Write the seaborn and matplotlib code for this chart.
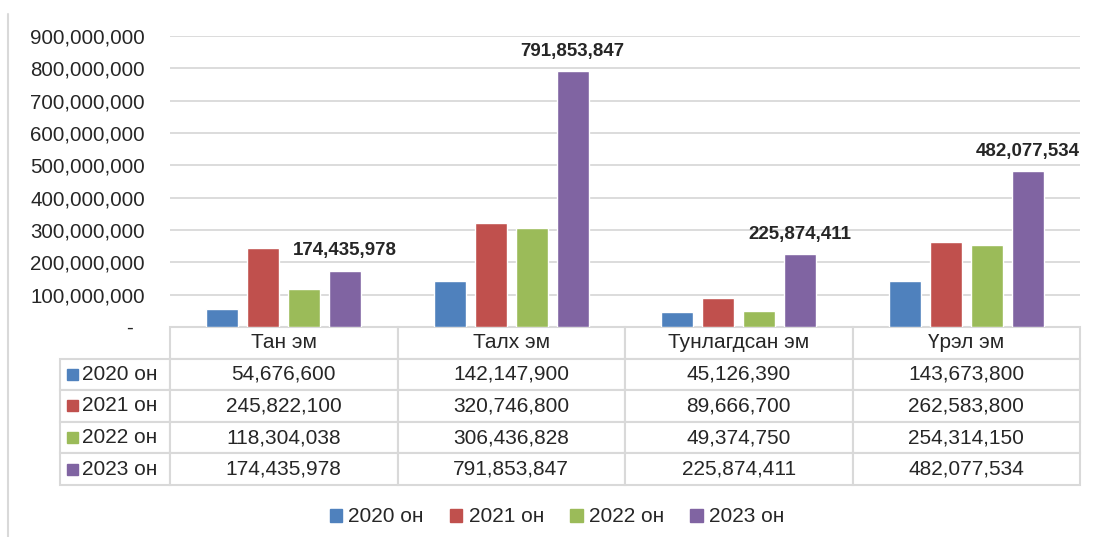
import matplotlib
matplotlib.use('Agg')
import matplotlib.pyplot as plt
import seaborn as sns
import pandas as pd
from matplotlib.table import Table
from matplotlib.patches import Patch, Rectangle
from matplotlib.lines import Line2D
from matplotlib.ticker import FuncFormatter

categories = ['Тан эм', 'Талх эм', 'Тунлагдсан эм', 'Үрэл эм']
years = ['2020 он', '2021 он', '2022 он', '2023 он']
v2020 = [54676600, 142147900, 45126390, 143673800]
v2021 = [245822100, 320746800, 89666700, 262583800]
v2022 = [118304038, 306436828, 49374750, 254314150]
v2023 = [174435978, 791853847, 225874411, 482077534]
colors = ['#4F81BD', '#C0504D', '#9BBB59', '#8064A2']

series = [v2020, v2021, v2022, v2023]
df = pd.DataFrame({
    'category': categories * len(years),
    'year': [y for y in years for _ in categories],
    'value': [v for s in series for v in s],
})

sns.set_style('white')
plt.rcParams['font.family'] = ['Liberation Sans', 'DejaVu Sans']
text_color = '#262626'
line_color = '#D9D9D9'

W, H = 1101, 537
fig = plt.figure(figsize=(W / 100, H / 100), dpi=100)
ax = fig.add_axes([170 / W, 1 - 327 / H, 910 / W, 291 / H])

sns.barplot(data=df, x='category', y='value', hue='year', order=categories,
            hue_order=years, palette=colors, saturation=1, width=0.72, gap=0.22,
            legend=False, ax=ax)

# bold labels on the 2023 bars only
ax.bar_label(ax.containers[-1], labels=[f'{v:,}' for v in v2023], padding=8,
             fontsize=13.5, fontweight='bold', color=text_color)

ax.set_ylim(0, 900_000_000)
ax.set_yticks(range(0, 900_000_001, 100_000_000))
ax.yaxis.set_major_formatter(FuncFormatter(lambda v, p: '-  ' if v == 0 else f'{int(v):,}'))
ax.tick_params(axis='y', length=0, pad=18, labelsize=14.8, labelcolor=text_color)
ax.set_xticks([])
ax.set_xlabel('')
ax.set_ylabel('')
ax.yaxis.grid(True, color=line_color, lw=1.3)
ax.set_axisbelow(True)
for s in ax.spines.values():
    s.set_visible(False)

# data table below the plot
tbl = Table(ax, bbox=[-110 / 910, -158 / 291, 1020 / 910, 158 / 291])
tbl.auto_set_font_size(False)
widths = [110] + [227.5] * len(categories)
cell = tbl.add_cell(0, 0, widths[0], 1, text='')
cell.visible_edges = ''
for j, cat in enumerate(categories, start=1):
    c = tbl.add_cell(0, j, widths[j], 1, text=cat, loc='center', edgecolor=line_color)
for i, (yr, s) in enumerate(zip(years, series), start=1):
    c = tbl.add_cell(i, 0, widths[0], 1, text=yr, loc='left', edgecolor=line_color)
    c.PAD = 0.2
    for j, v in enumerate(s, start=1):
        tbl.add_cell(i, j, widths[j], 1, text=f'{v:,}', loc='center', edgecolor=line_color)
for c in tbl.get_celld().values():
    c.set_linewidth(1.5)
    c.get_text().set_fontsize(15)
    c.get_text().set_color(text_color)
ax.add_table(tbl)

# coloured keys in the row-label cells
row_h = 158 / 291 / 5
for i, col in enumerate(colors, start=1):
    yc = -i * row_h - row_h / 2
    ax.add_patch(Rectangle(((67 - 170) / 910, yc - 5.5 / 291), 11 / 910, 11 / 291,
                           transform=ax.transAxes, color=col, clip_on=False))

handles = [Patch(color=c) for c in colors]
fig.legend(handles=handles, labels=years, loc='center', bbox_to_anchor=(557 / W, 1 - 517 / H),
           ncol=4, frameon=False, fontsize=15, handlelength=0.6, handleheight=0.6,
           handletextpad=0.3, columnspacing=1.25, labelcolor=text_color)

fig.add_artist(Line2D([8 / W, 8 / W], [0, 1 - 14 / H], color=line_color, lw=1.5))

fig.savefig('out.png', dpi=100)
